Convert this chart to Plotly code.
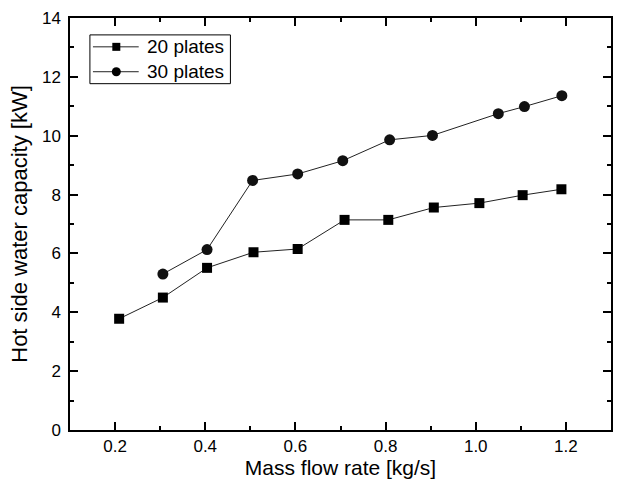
import plotly.graph_objects as go

x20 = [0.209, 0.306, 0.404, 0.507, 0.605, 0.709, 0.806, 0.907, 1.008, 1.104, 1.190]
y20 = [3.78, 4.50, 5.51, 6.04, 6.15, 7.14, 7.14, 7.56, 7.71, 7.98, 8.18]
x30 = [0.306, 0.404, 0.505, 0.605, 0.705, 0.809, 0.904, 1.050, 1.108, 1.191]
y30 = [5.30, 6.13, 8.48, 8.70, 9.15, 9.86, 10.01, 10.75, 10.99, 11.36]
series_names = ["20 plates", "30 plates"]
xtick_vals = [0.2, 0.4, 0.6, 0.8, 1.0, 1.2]
xtick_text = ["0.2", "0.4", "0.6", "0.8", "1.0", "1.2"]
ytick_vals = [0, 2, 4, 6, 8, 10, 12, 14]

FONT = "Arial, Liberation Sans, sans-serif"
LINE_COLOR = "#222222"

fig = go.Figure()
fig.add_trace(go.Scatter(x=x20, y=y20, mode="lines+markers", name=series_names[0],
                         line=dict(color=LINE_COLOR, width=1),
                         marker=dict(symbol="square", size=10, color="black"),
                         showlegend=False))
fig.add_trace(go.Scatter(x=x30, y=y30, mode="lines+markers", name=series_names[1],
                         line=dict(color=LINE_COLOR, width=1),
                         marker=dict(symbol="circle", size=11, color="#111111"),
                         showlegend=False))

# --- manual legend (overlay axis spanning the plot area, 0..1) ---
leg_left, leg_right, leg_top, leg_bot = 0.0368, 0.2965, 0.959, 0.8406
row_y = [0.930, 0.8696]
line_x0, line_x1, mark_x, text_x = 0.0424, 0.127, 0.0856, 0.138
symbols = ["square", "circle"]
msizes = [8, 9]
fig.add_shape(type="rect", xref="paper", yref="paper", x0=leg_left, x1=leg_right,
              y0=leg_bot, y1=leg_top, line=dict(color="black", width=1), fillcolor="white",
              layer="below")
for i, nm in enumerate(series_names):
    fig.add_shape(type="line", xref="paper", yref="paper", x0=line_x0, x1=line_x1,
                  y0=row_y[i], y1=row_y[i], line=dict(color=LINE_COLOR, width=1), layer="below")
    fig.add_trace(go.Scatter(x=[mark_x], y=[row_y[i]], xaxis="x2", yaxis="y2", mode="markers",
                             marker=dict(symbol=symbols[i], size=msizes[i], color="black"),
                             showlegend=False, hoverinfo="skip"))
    fig.add_annotation(xref="paper", yref="paper", x=text_x, y=row_y[i], text=nm,
                       showarrow=False, xanchor="left", yanchor="middle",
                       font=dict(family=FONT, size=19, color="black"))

axis_common = dict(showline=True, linecolor="black", linewidth=1.5, mirror="allticks",
                   ticks="inside", ticklen=8, tickwidth=1.5, tickcolor="black",
                   showgrid=False, zeroline=False,
                   tickfont=dict(family=FONT, size=17, color="black"))

fig.update_layout(
    xaxis=dict(range=[0.1, 1.3], tickmode="array",
               tickvals=xtick_vals, ticktext=xtick_text,
               minor=dict(tickmode="array", tickvals=[0.3, 0.5, 0.7, 0.9, 1.1],
                          ticks="inside", ticklen=4, tickwidth=1.5, tickcolor="black"),
               title=dict(text="Mass flow rate [kg/s]", font=dict(family=FONT, size=21, color="black"),
                          standoff=2),
               **axis_common),
    yaxis=dict(range=[0, 14], tickmode="array", tickvals=ytick_vals,
               minor=dict(tickmode="array", tickvals=[1, 3, 5, 7, 9, 11, 13],
                          ticks="inside", ticklen=4, tickwidth=1.5, tickcolor="black"),
               ticklabelstandoff=4,
               title=dict(text="Hot side water capacity [kW]", font=dict(family=FONT, size=22, color="black"),
                          standoff=8),
               **axis_common),
    xaxis2=dict(range=[0, 1], overlaying="x", visible=False),
    yaxis2=dict(range=[0, 1], overlaying="y", visible=False),
)

fig.update_layout(width=622, height=484, margin=dict(l=70, r=9, t=16, b=54),
                  plot_bgcolor="white", paper_bgcolor="white",
                  font=dict(family=FONT, color="black"),
                  showlegend=False)

fig.write_html("out.html")
